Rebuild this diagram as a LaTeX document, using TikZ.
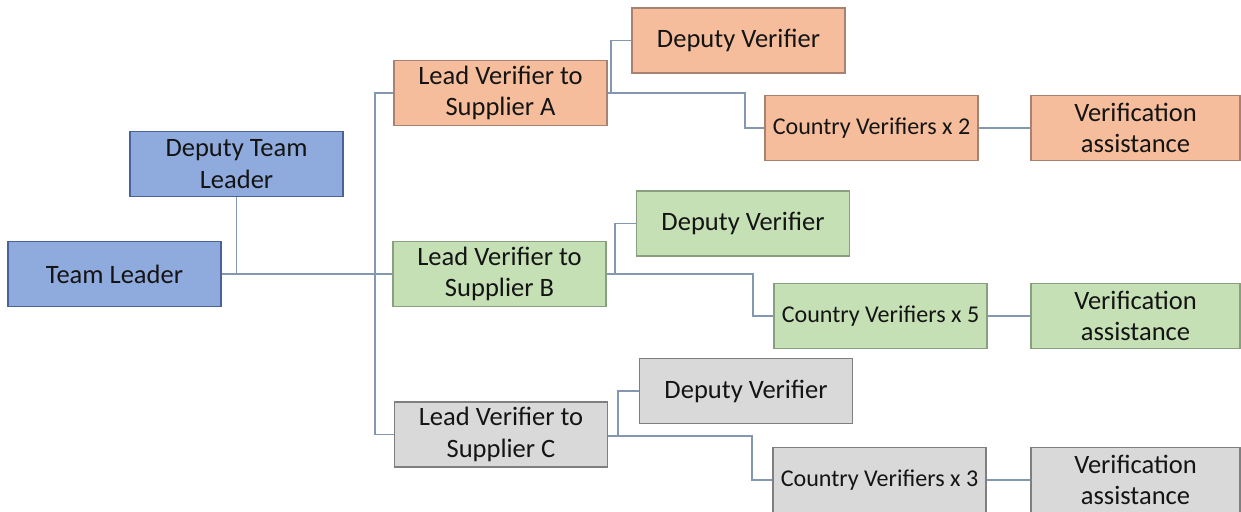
\documentclass[tikz,border=0pt]{standalone}
\usepackage{fontspec}
\setmainfont{Carlito}
\definecolor{blueF}{HTML}{8FAADC}
\definecolor{blueD}{HTML}{4A6396}
\definecolor{orangeF}{HTML}{F5BD9B}
\definecolor{orangeD}{HTML}{A88270}
\definecolor{greenF}{HTML}{C5E0B4}
\definecolor{greenD}{HTML}{8A9E80}
\definecolor{grayF}{HTML}{D9D9D9}
\definecolor{grayD}{HTML}{7F7F7F}
\definecolor{linkC}{HTML}{8497B0}
\definecolor{txt}{HTML}{141414}
\begin{document}
\begin{tikzpicture}[x=0.02cm,y=-0.02cm,
  box/.style={draw, line width=0.75pt, minimum width=4.26cm, minimum height=1.3cm,
    inner sep=0pt, align=center, text=txt, font=\fontsize{15.1}{18}\selectfont},
  small/.style={font=\fontsize{13.7}{16}\selectfont},
  vbox/.style={box, minimum width=4.18cm},
  bluebox/.style={box, fill=blueF, draw=blueD},
  orangebox/.style={fill=orangeF, draw=orangeD},
  greenbox/.style={fill=greenF, draw=greenD},
  graybox/.style={fill=grayF, draw=grayD},
  link/.style={draw=linkC, line width=0.7pt}]
\useasboundingbox (0,0) rectangle (1241,511);

% team leadership
\node[bluebox] (dtl) at (236.5,164) {Deputy Team\\Leader};
\node[bluebox] (tl) at (114.5,274) {Team Leader};

% supplier A
\node[box, orangebox] (la) at (500.5,93) {Lead Verifier to\\Supplier A};
\node[box, orangebox] (da) at (738.5,40.5) {Deputy Verifier};
\node[box, small, orangebox] (ca) at (871.5,128) {Country Verifiers x 2};
\node[vbox, orangebox] (va) at (1135.5,128) {Verification\\assistance};

% supplier B
\node[box, greenbox] (lb) at (499.5,274) {Lead Verifier to\\Supplier B};
\node[box, greenbox] (db) at (743,223.5) {Deputy Verifier};
\node[box, small, greenbox] (cb) at (880.5,316) {Country Verifiers x 5};
\node[vbox, greenbox] (vb) at (1135.5,316) {Verification\\assistance};

% supplier C
\node[box, graybox] (lc) at (501,434.5) {Lead Verifier to\\Supplier C};
\node[box, graybox] (dc) at (746,391) {Deputy Verifier};
\node[box, small, graybox] (cc) at (879.5,480) {Country Verifiers x 3};
\node[vbox, graybox] (vc) at (1135.5,480) {Verification\\assistance};

% junction points
\coordinate (trunk) at (375,274);
\coordinate (ja) at (611,93);
\coordinate (ka) at (745,93);
\coordinate (jb) at (615,274);
\coordinate (kb) at (753,274);
\coordinate (jc) at (618,436);
\coordinate (kc) at (752,436);

% connectors
\path[link] (tl.east) -- (lb.west);
\path[link] (dtl.south) -- (dtl.south |- tl.east);
\path[link] (la.west) -- (la.west -| trunk) -- (lc.west -| trunk) -- (lc.west);

\path[link] (la.east) -- (ja) |- (da.west);
\path[link] (ja) -- (ka) |- (ca.west);
\path[link] (ca.east) -- (va.west);

\path[link] (lb.east) -- (jb) |- (db.west);
\path[link] (jb) -- (kb) |- (cb.west);
\path[link] (cb.east) -- (vb.west);

\path[link] (lc.east |- jc) -- (jc) |- (dc.west);
\path[link] (jc) -- (kc) |- (cc.west);
\path[link] (cc.east) -- (vc.west);
\end{tikzpicture}
\end{document}
